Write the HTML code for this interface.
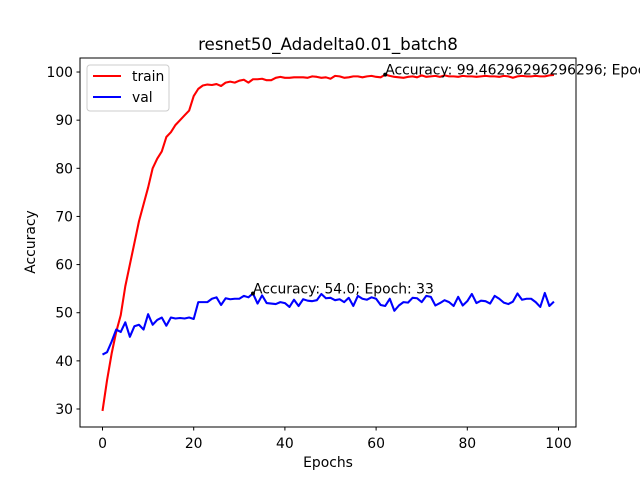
<!DOCTYPE html>
<html><head><meta charset="utf-8"><style>
body{margin:0;background:#fff}
svg text{font-family:"DejaVu Sans","Liberation Sans",sans-serif;fill:#000}
</style></head><body>
<svg id="chart" width="640" height="480" xmlns="http://www.w3.org/2000/svg">
<rect width="640" height="480" fill="#fff"/>
<text x="328" y="50" font-size="16.7" text-anchor="middle">resnet50_Adadelta0.01_batch8</text>
<g id="plot"></g>
<rect x="80" y="58" width="496" height="369" fill="none" stroke="#000" stroke-width="1"/>
<text x="328" y="467" font-size="13.9" text-anchor="middle">Epochs</text>
<text x="35" y="242" font-size="13.9" text-anchor="middle" transform="rotate(-90 35 242)">Accuracy</text>
<g>
<rect x="87" y="65" width="82" height="46" rx="3" fill="#fff" fill-opacity="0.8" stroke="#ccc"/>
<line x1="93" y1="76" x2="121" y2="76" stroke="red" stroke-width="2.08"/>
<text x="132" y="81" font-size="13.9">train</text>
<line x1="93" y1="97" x2="121" y2="97" stroke="blue" stroke-width="2.08"/>
<text x="132" y="102" font-size="13.9">val</text>
</g>
</svg>
<script>
const epochs = Array.from({length:100},(_, i)=>i);
const train = [29.6,36,41.5,46,49.5,55.5,60,64.5,69,72.5,76,80,82,83.5,86.5,87.5,89,90,91,92,95,96.5,97.2,97.4,97.3,97.5,97.1,97.8,98,97.8,98.2,98.4,97.8,98.5,98.5,98.6,98.3,98.3,98.8,99,98.8,98.8,98.9,98.9,98.9,98.8,99.1,99,98.8,98.9,98.6,99.2,99.1,98.8,98.9,99.1,99.1,98.9,99.1,99.2,99,98.9,99.46,99.2,99,98.9,98.8,99,99.1,98.9,99.3,99,99.1,99.2,99,99.3,99.1,99.1,99,99.2,99.1,99.1,99,99.1,99.2,99.1,99.1,99,99.2,99.1,98.8,99.1,99.2,99.1,99.1,99.2,99.1,99.1,99.3,99.4];
const val = [41.3,41.8,44,46.5,46,48,45,47.2,47.5,46.5,49.7,47.5,48.5,49,47.3,49,48.8,48.9,48.8,49,48.7,52.2,52.2,52.2,52.9,53.2,51.6,53,52.8,52.9,52.9,53.5,53.2,54,51.9,53.6,52,51.9,51.8,52.2,52,51.2,52.7,51.4,52.8,52.5,52.4,52.6,53.9,53,53.1,52.6,52.8,52.2,53.1,51.4,53.5,52.9,52.7,53.2,52.9,51.6,51.4,52.9,50.4,51.5,52.2,52.1,53.1,53,52.2,53.5,53.3,51.5,52,52.6,52.2,51.4,53.3,51.5,52.4,53.9,52,52.5,52.4,51.9,53.5,52.9,52.1,51.8,52.3,54,52.7,52.9,52.9,52.2,51.2,54.1,51.4,52.3,52.6];
const xTicks = [0,20,40,60,80,100];
const yTicks = [30,40,50,60,70,80,90,100];
const ann = [{x:62,y:99.46296296296296,label:"Accuracy: 99.46296296296296; Epoch: 62"},{x:33,y:54.0,label:"Accuracy: 54.0; Epoch: 33"}];
const sx = v => 102.5 + v*4.56;
const sy = v => 409 - (v-30)*4.814;
const NS="http://www.w3.org/2000/svg";
const g=document.getElementById('plot');
function mk(t,a){const e=document.createElementNS(NS,t);for(const k in a)e.setAttribute(k,a[k]);return e;}
xTicks.forEach(t=>{
  const l=mk('line',{x1:sx(t),x2:sx(t),y1:427,y2:430.5,stroke:'#000'});
  
  
  g.appendChild(l);
  const tx=mk('text',{x:sx(t),y:448,'font-size':13.9,'text-anchor':'middle'});tx.textContent=t;
  
  
  g.appendChild(tx);
});
yTicks.forEach(t=>{
  const l=mk('line',{x1:76.5,x2:80,y1:sy(t),y2:sy(t),stroke:'#000'});
  
  
  g.appendChild(l);
  const tx=mk('text',{x:73,y:sy(t)+5,'font-size':13.9,'text-anchor':'end'});tx.textContent=t;
  
  
  g.appendChild(tx);
});
function line(arr,color,name){
  const p=mk('polyline',{points:arr.map((v,i)=>sx(epochs[i])+','+sy(v)).join(' '),fill:'none',stroke:color,'stroke-width':2.08,'stroke-linejoin':'round'});
  
  
  g.appendChild(p);
}
line(train,'red','train-line');
line(val,'blue','val-line');
ann.forEach(a=>{
  const c=mk('circle',{cx:sx(a.x),cy:sy(a.y),r:2,fill:'#000'});
  
  
  g.appendChild(c);
  const t=mk('text',{x:sx(a.x),y:sy(a.y),'font-size':13.9});t.textContent=a.label;
  
  
  g.appendChild(t);
});
</script>
</body></html>
